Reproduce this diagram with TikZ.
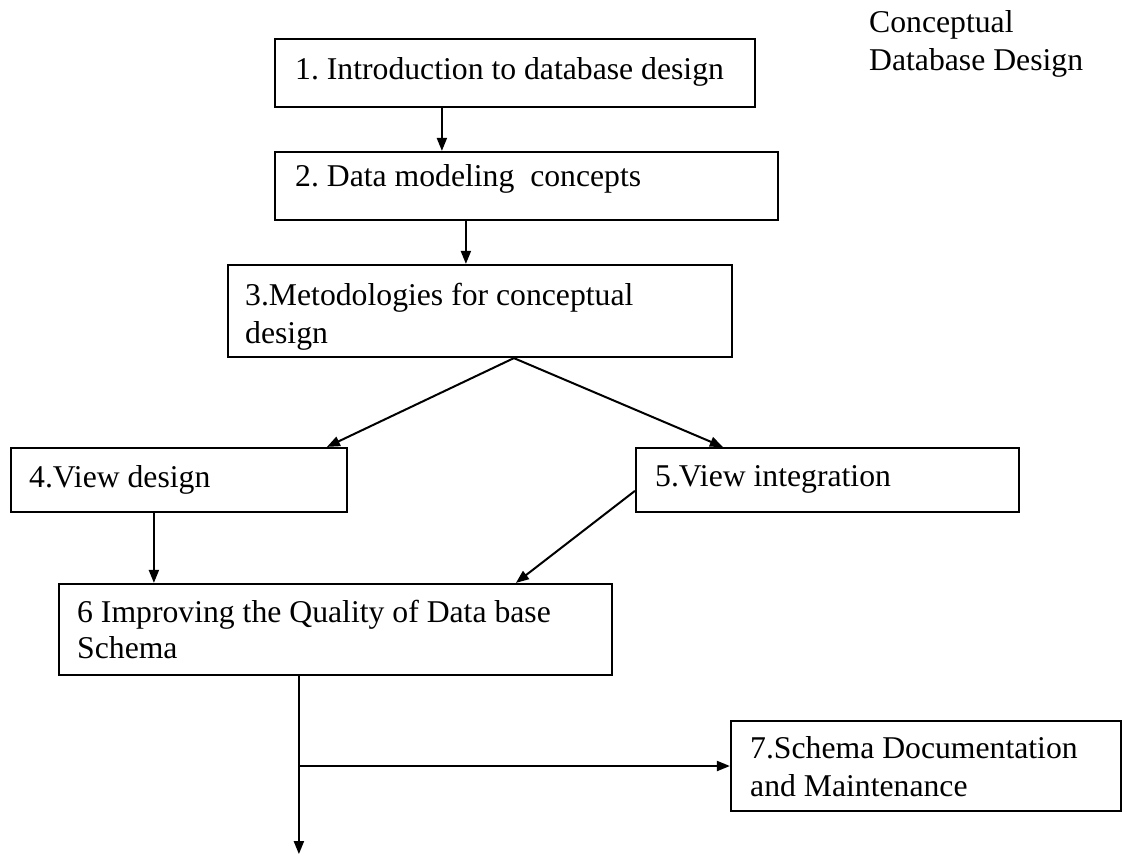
\documentclass[tikz,border=0pt]{standalone}
\usepackage{fontspec}
\setmainfont{Liberation Serif}
\usetikzlibrary{arrows.meta,calc,fit}

\tikzset{
  stagebox/.style={draw, line width=2.2pt, rectangle, inner sep=0pt},
  stagetext/.style={anchor=base west, inner sep=0pt, align=left,
    font=\fontsize{31.7}{38}\selectfont},
  flow/.style={line width=2pt, -{Triangle[length=13pt,width=10pt]}},
}

\begin{document}
\frenchspacing
\begin{tikzpicture}[x=1pt,y=-1pt]
\useasboundingbox (0,0) rectangle (1124,855);

% chapter heading
\node[stagetext] (title) at (869,32) {Conceptual};
\node[stagetext] (title2) at (869,70) {Database Design};

% stage frames
\node[stagebox, fit={(275,39) (755,107)}] (b1) {};
\node[stagebox, fit={(275,152) (778,220)}] (b2) {};
\node[stagebox, fit={(228,265) (732,357)}] (b3) {};
\node[stagebox, fit={(11,448) (347,512)}] (b4) {};
\node[stagebox, fit={(636,448) (1019,512)}] (b5) {};
\node[stagebox, fit={(59,584) (612,675)}] (b6) {};
\node[stagebox, fit={(731,721) (1121,811)}] (b7) {};

% stage texts
\node[stagetext] (t1) at (295,79) {1. Introduction to database design};
\node[stagetext] (t2) at (295,186) {2. Data modeling\ \ concepts};
\node[stagetext] (t3) at (245,305) {3.Metodologies for conceptual};
\node[stagetext] (t3b) at (245,343) {design};
\node[stagetext] (t4) at (29,487) {4.View design};
\node[stagetext] (t5) at (655,486) {5.View integration};
\node[stagetext] (t6) at (77,622) {6 Improving the Quality of Data base};
\node[stagetext] (t6b) at (77,658) {Schema};
\node[stagetext] (t7) at (750,758) {7.Schema Documentation};
\node[stagetext] (t7b) at (750,796) {and Maintenance};

% connectors
\draw[flow] ([xshift=168pt]b1.south west) -- ([xshift=168pt]b1.south west |- b2.north);
\draw[flow] ([xshift=192pt]b2.south west) -- ([xshift=192pt]b2.south west |- b3.north);

\coordinate (apex) at ([xshift=287pt]b3.south west);
\draw[flow] (apex) -- ([xshift=317pt]b4.north west);
\draw[flow] (apex) -- ([xshift=88pt]b5.north west);

\draw[flow] ([xshift=144pt]b4.south west) -- ([xshift=144pt]b4.south west |- b6.north);
\draw[flow] ([yshift=-44pt]b5.north west) -- ([xshift=458pt]b6.north west);

\coordinate (out) at ([xshift=241pt]b6.south west);
\coordinate (split) at (out |- b7.west);
\coordinate (bottomend) at ($(out)+(0,178)$);
\draw[flow] (out) -- (bottomend);
\draw[flow] (split) -- (b7.west);
\end{tikzpicture}
\end{document}
